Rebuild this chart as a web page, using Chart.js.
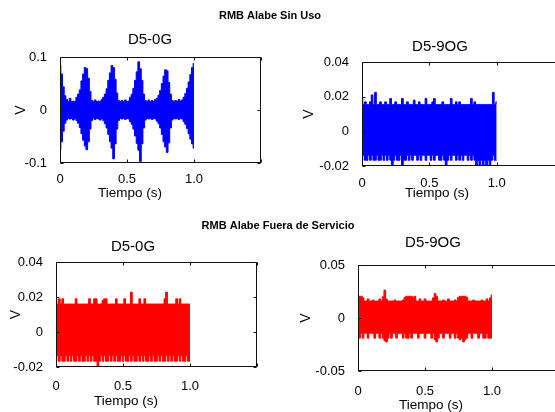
<!DOCTYPE html>
<html><head><meta charset="utf-8">
<script src="https://cdn.jsdelivr.net/npm/chart.js@4.4.1/dist/chart.umd.min.js"></script>
<style>
html,body{margin:0;padding:0;background:#fff;overflow:hidden;width:555px;height:412px}
canvas{position:absolute;left:0;top:0}
</style></head><body>
<canvas id="c1" width="600" height="412"></canvas>
<canvas id="c2" width="600" height="412"></canvas>
<canvas id="c3" width="600" height="412"></canvas>
<canvas id="c4" width="600" height="412"></canvas>
<script>
// Time axis (s)
const tiempo = [0,0.0125,0.025,0.0375,0.05,0.0625,0.075,0.0875,0.1,0.1125,
0.125,0.1375,0.15,0.1625,0.175,0.1875,0.2,0.2125,0.225,0.2375,
0.25,0.2625,0.275,0.2875,0.3,0.3125,0.325,0.3375,0.35,0.3625,
0.375,0.3875,0.4,0.4125,0.425,0.4375,0.45,0.4625,0.475,0.4875,
0.5,0.5125,0.525,0.5375,0.55,0.5625,0.575,0.5875,0.6,0.6125,
0.625,0.6375,0.65,0.6625,0.675,0.6875,0.7,0.7125,0.725,0.7375,
0.75,0.7625,0.775,0.7875,0.8,0.8125,0.825,0.8375,0.85,0.8625,
0.875,0.8875,0.9,0.9125,0.925,0.9375,0.95,0.9625,0.975,0.9875,
1.0];

// RMB Alabe Sin Uso - D5-0G (upper / lower envelope, V)
const sinUso0G_sup = [0.085,0.068,0.044,0.027,0.020,0.016,0.022,0.016,0.017,0.016,
0.024,0.030,0.038,0.055,0.068,0.080,0.078,0.060,0.035,0.018,
0.016,0.019,0.016,0.017,0.016,0.020,0.024,0.030,0.040,0.056,
0.070,0.084,0.080,0.058,0.032,0.018,0.016,0.018,0.016,0.019,
0.016,0.017,0.024,0.030,0.041,0.056,0.072,0.091,0.078,0.056,
0.030,0.018,0.016,0.019,0.016,0.018,0.016,0.020,0.022,0.028,
0.037,0.050,0.064,0.076,0.074,0.052,0.030,0.018,0.016,0.018,
0.016,0.020,0.017,0.019,0.024,0.031,0.041,0.053,0.067,0.080,
0.088];
const sinUso0G_inf = [-0.075,-0.060,-0.040,-0.025,-0.019,-0.016,-0.017,-0.016,-0.019,-0.016,
-0.020,-0.025,-0.033,-0.045,-0.057,-0.068,-0.075,-0.060,-0.036,-0.020,
-0.016,-0.018,-0.016,-0.017,-0.019,-0.016,-0.020,-0.026,-0.034,-0.046,
-0.060,-0.072,-0.092,-0.064,-0.036,-0.020,-0.016,-0.017,-0.016,-0.018,
-0.016,-0.017,-0.022,-0.027,-0.036,-0.049,-0.063,-0.076,-0.097,-0.064,
-0.034,-0.019,-0.016,-0.017,-0.016,-0.018,-0.016,-0.017,-0.021,-0.026,
-0.034,-0.046,-0.060,-0.070,-0.080,-0.062,-0.034,-0.019,-0.016,-0.017,
-0.016,-0.018,-0.016,-0.017,-0.022,-0.027,-0.035,-0.045,-0.055,-0.064,
-0.072];

// RMB Alabe Sin Uso - D5-9OG
const sinUso9OG_sup = [0.019,0.0155,0.017,0.0155,0.0155,0.017,0.021,0.0155,0.0225,0.0155,
0.0155,0.017,0.0155,0.0155,0.017,0.0155,0.0155,0.019,0.0155,0.0155,
0.017,0.0155,0.0155,0.0155,0.019,0.0155,0.0155,0.017,0.0155,0.0155,
0.0155,0.018,0.0155,0.0155,0.017,0.0155,0.0155,0.0155,0.019,0.0155,
0.0155,0.0155,0.017,0.019,0.0155,0.0155,0.0155,0.0155,0.017,0.0155,
0.0155,0.0155,0.0155,0.019,0.0155,0.0155,0.017,0.0155,0.017,0.0155,
0.0155,0.0155,0.0155,0.0155,0.0155,0.019,0.0155,0.017,0.0155,0.0155,
0.0155,0.0155,0.0155,0.0155,0.0155,0.0155,0.0155,0.0155,0.0225,0.0155,
0.017];
const sinUso9OG_inf = [-0.0167,-0.0138,-0.0167,-0.0167,-0.0138,-0.0167,-0.0138,-0.0167,-0.0167,-0.0138,
-0.0167,-0.0167,-0.0138,-0.0167,-0.0138,-0.0167,-0.0138,-0.0167,-0.0195,-0.0167,
-0.0138,-0.0167,-0.0167,-0.0138,-0.0195,-0.0167,-0.0167,-0.0138,-0.0167,-0.0138,
-0.0167,-0.0138,-0.0138,-0.0167,-0.0138,-0.0167,-0.0138,-0.0138,-0.0167,-0.0138,
-0.0138,-0.0167,-0.0138,-0.0167,-0.0138,-0.0138,-0.0167,-0.0167,-0.0138,-0.0167,
-0.0195,-0.0167,-0.0138,-0.0167,-0.0138,-0.0138,-0.0167,-0.0138,-0.0167,-0.0138,
-0.0167,-0.0138,-0.0138,-0.0167,-0.0138,-0.0167,-0.0138,-0.0167,-0.0195,-0.0167,
-0.0195,-0.0167,-0.0195,-0.0167,-0.0195,-0.0167,-0.0195,-0.0167,-0.0138,-0.0167,
-0.0167];

// RMB Alabe Fuera de Servicio - D5-0G
const fuera0G_sup = [0.019,0.016,0.019,0.016,0.019,0.016,0.016,0.016,0.016,0.016,
0.016,0.016,0.019,0.016,0.016,0.016,0.016,0.016,0.016,0.016,
0.019,0.016,0.016,0.019,0.019,0.016,0.016,0.016,0.018,0.019,
0.019,0.016,0.016,0.016,0.016,0.016,0.019,0.016,0.016,0.016,
0.016,0.019,0.016,0.016,0.016,0.0228,0.016,0.016,0.016,0.016,
0.019,0.016,0.016,0.019,0.016,0.016,0.016,0.016,0.016,0.016,
0.016,0.016,0.016,0.016,0.016,0.019,0.0228,0.016,0.016,0.016,
0.016,0.016,0.019,0.016,0.019,0.016,0.016,0.016,0.016,0.016,
0.016];
const fuera0G_inf = [-0.0167,-0.0135,-0.0167,-0.0135,-0.0167,-0.0167,-0.0135,-0.0167,-0.0135,-0.0167,
-0.0135,-0.0167,-0.0167,-0.0135,-0.0167,-0.0135,-0.0167,-0.0167,-0.0135,-0.0167,
-0.0135,-0.0167,-0.0135,-0.0167,-0.0167,-0.020,-0.0167,-0.0135,-0.0167,-0.0135,
-0.0167,-0.0167,-0.0135,-0.0167,-0.0135,-0.0167,-0.0135,-0.0167,-0.0167,-0.0135,
-0.0167,-0.0135,-0.0167,-0.0167,-0.0135,-0.0167,-0.0135,-0.0167,-0.0167,-0.0135,
-0.0167,-0.0135,-0.0167,-0.0135,-0.0167,-0.0167,-0.0135,-0.0167,-0.0135,-0.0167,
-0.0167,-0.0135,-0.0167,-0.0135,-0.0167,-0.0167,-0.0135,-0.0167,-0.0135,-0.0167,
-0.0135,-0.0167,-0.0167,-0.0135,-0.0167,-0.0135,-0.0167,-0.0167,-0.0135,-0.0167,
-0.0167];

// RMB Alabe Fuera de Servicio - D5-9OG
const fuera9OG_sup = [0.0205,0.0205,0.0205,0.019,0.016,0.016,0.018,0.016,0.016,0.017,
0.016,0.016,0.016,0.018,0.016,0.020,0.0263,0.018,0.016,0.016,
0.016,0.016,0.017,0.016,0.016,0.016,0.016,0.017,0.0195,0.0205,
0.0205,0.0205,0.0205,0.0195,0.0205,0.016,0.016,0.018,0.016,0.016,
0.018,0.016,0.016,0.016,0.016,0.019,0.023,0.0205,0.016,0.016,
0.016,0.017,0.016,0.016,0.018,0.016,0.016,0.016,0.017,0.016,
0.0195,0.0205,0.0205,0.0205,0.0205,0.0195,0.016,0.016,0.016,0.017,
0.016,0.016,0.016,0.016,0.017,0.016,0.016,0.018,0.016,0.019,
0.0216];
const fuera9OG_inf = [-0.019,-0.019,-0.0145,-0.019,-0.0145,-0.0145,-0.019,-0.0145,-0.0145,-0.0145,
-0.019,-0.0145,-0.0145,-0.019,-0.0145,-0.019,-0.0215,-0.0226,-0.019,-0.0145,
-0.019,-0.0145,-0.0145,-0.019,-0.0145,-0.0145,-0.0145,-0.019,-0.0145,-0.019,
-0.019,-0.0145,-0.019,-0.0145,-0.0145,-0.0145,-0.019,-0.0145,-0.0145,-0.0145,
-0.019,-0.0145,-0.0145,-0.0145,-0.019,-0.0145,-0.0205,-0.0226,-0.019,-0.0145,
-0.0145,-0.019,-0.0145,-0.0145,-0.0145,-0.019,-0.0145,-0.0145,-0.019,-0.0145,
-0.019,-0.0205,-0.019,-0.0226,-0.0205,-0.019,-0.0145,-0.0145,-0.019,-0.0145,
-0.0145,-0.0145,-0.019,-0.0145,-0.0145,-0.019,-0.019,-0.0145,-0.019,-0.019,
-0.019];

// Tick values / labels
const xTickValues = [0, 0.5, 1.0, 1.5];
const xTickLabels = ['0', '0.5', '1.0', ''];
const yTicks01 = [-0.1, 0, 0.1];
const yLabels01 = ['-0.1', '0', '0.1'];
const yTicks004 = [-0.02, 0, 0.02, 0.04];
const yLabels004 = ['-0.02', '0', '0.02', '0.04'];
const yTicks005 = [-0.05, 0, 0.05];
const yLabels005 = ['-0.05', '0', '0.05'];

const FONT = "'Liberation Sans', Arial, Helvetica, sans-serif";
const W = 600, H = 412;

const matBox = {
  id: 'matBox',
  afterDraw(chart, args, o) {
    const ctx = chart.ctx, a = chart.chartArea, xs = chart.scales.x, ys = chart.scales.y;
    ctx.save();
    ctx.strokeStyle = '#111';
    ctx.lineWidth = 1;
    const L = Math.round(a.left) + 0.5, R = Math.round(a.right) - 0.5;
    const T = Math.round(a.top) + 0.5, B = Math.round(a.bottom) - 0.5;
    ctx.strokeRect(L, T, R - L, B - T);
    ctx.beginPath();
    xs.ticks.forEach(t => {
      const px = Math.round(xs.getPixelForValue(t.value)) + 0.5;
      ctx.moveTo(px, B); ctx.lineTo(px, B - 3);
      ctx.moveTo(px, T); ctx.lineTo(px, T + 3);
    });
    ys.ticks.forEach(t => {
      const py = Math.round(ys.getPixelForValue(t.value)) + 0.5;
      ctx.moveTo(L, py); ctx.lineTo(L + 3, py);
      ctx.moveTo(R, py); ctx.lineTo(R - 3, py);
    });
    ctx.stroke();
    (o.texts || []).forEach(tx => {
      ctx.font = (tx.bold ? 'bold ' : '') + tx.size + 'px ' + FONT;
      ctx.fillStyle = '#000';
      ctx.textAlign = 'center';
      ctx.textBaseline = 'middle';
      ctx.fillText(tx.text, tx.x, tx.y);
    });
    ctx.restore();
  }
};

function makeChart(id, c) {
  const pts = arr => arr.map((v, i) => ({x: tiempo[i], y: v}));
  return new Chart(document.getElementById(id), {
    type: 'line',
    data: {datasets: [
      {data: pts(c.sup), borderColor: c.color, backgroundColor: c.color, borderWidth: 1,
       pointRadius: 0, fill: '+1', stepped: 'middle'},
      {data: pts(c.inf), borderColor: c.color, backgroundColor: c.color, borderWidth: 1,
       pointRadius: 0, fill: false, stepped: 'middle'}
    ]},
    options: {
      responsive: false, animation: false, events: [],
      layout: {padding: {left: c.area.l - c.yw, top: c.area.t, right: W - c.area.r, bottom: H - c.area.b - 30}},
      plugins: {legend: {display: false}, tooltip: {enabled: false}, title: {display: false},
                matBox: {texts: c.texts}},
      scales: {
        x: {type: 'linear', min: 0, max: 1.5,
            grid: {display: false}, border: {display: false},
            afterBuildTicks: s => { s.ticks = xTickValues.map(v => ({value: v})); },
            afterFit: s => { s.height = 30; },
            ticks: {autoSkip: false, maxRotation: 0, padding: c.xpad, color: '#000',
                    font: {family: FONT, size: 13},
                    callback: v => { const k = xTickValues.indexOf(v); return k < 0 ? '' : xTickLabels[k]; }}},
        y: {type: 'linear', min: c.ymin, max: c.ymax,
            grid: {display: false}, border: {display: false},
            afterBuildTicks: s => { s.ticks = c.yTicks.map(v => ({value: v})); },
            afterFit: s => { s.width = c.yw; },
            ticks: {autoSkip: false, padding: 5, color: '#000', font: {family: FONT, size: 13},
                    callback: v => { const k = c.yTicks.indexOf(v); return k < 0 ? '' : c.yLabels[k]; }},
            title: {display: true, text: 'V', color: '#000', font: {family: FONT, size: 14}, padding: 0}}
      }
    },
    plugins: [matBox]
  });
}

makeChart('c1', {
  sup: sinUso0G_sup, inf: sinUso0G_inf, color: '#0000ff',
  ymin: -0.1, ymax: 0.1, yTicks: yTicks01, yLabels: yLabels01,
  area: {l: 60, r: 261, t: 57, b: 163}, yw: 47.4, xpad: 1,
  texts: [
    {text: 'RMB Alabe Sin Uso', x: 270, y: 16, size: 11, bold: true},
    {text: 'D5-0G', x: 150, y: 40, size: 15},
    {text: 'Tiempo (s)', x: 130, y: 193, size: 13.5}
  ]
});
makeChart('c2', {
  sup: sinUso9OG_sup, inf: sinUso9OG_inf, color: '#0000ff',
  ymin: -0.02, ymax: 0.04, yTicks: yTicks004, yLabels: yLabels004,
  area: {l: 362, r: 564, t: 62, b: 166}, yw: 61.4, xpad: 1.3,
  texts: [
    {text: 'D5-9OG', x: 440, y: 47, size: 15},
    {text: 'Tiempo (s)', x: 437, y: 193.5, size: 13.5}
  ]
});
makeChart('c3', {
  sup: fuera0G_sup, inf: fuera0G_inf, color: '#ff0000',
  ymin: -0.02, ymax: 0.04, yTicks: yTicks004, yLabels: yLabels004,
  area: {l: 56, r: 257, t: 262, b: 367}, yw: 48.4, xpad: 3.6,
  texts: [
    {text: 'RMB Alabe Fuera de Servicio', x: 278, y: 226, size: 11, bold: true},
    {text: 'D5-0G', x: 133, y: 247, size: 15},
    {text: 'Tiempo (s)', x: 126, y: 401.5, size: 13.5}
  ]
});
makeChart('c4', {
  sup: fuera9OG_sup, inf: fuera9OG_inf, color: '#ff0000',
  ymin: -0.05, ymax: 0.05, yTicks: yTicks005, yLabels: yLabels005,
  area: {l: 358, r: 559, t: 265, b: 371}, yw: 60.4, xpad: 4.6,
  texts: [
    {text: 'D5-9OG', x: 433, y: 242.5, size: 15},
    {text: 'Tiempo (s)', x: 431, y: 405, size: 13.5}
  ]
});
</script>
</body></html>
